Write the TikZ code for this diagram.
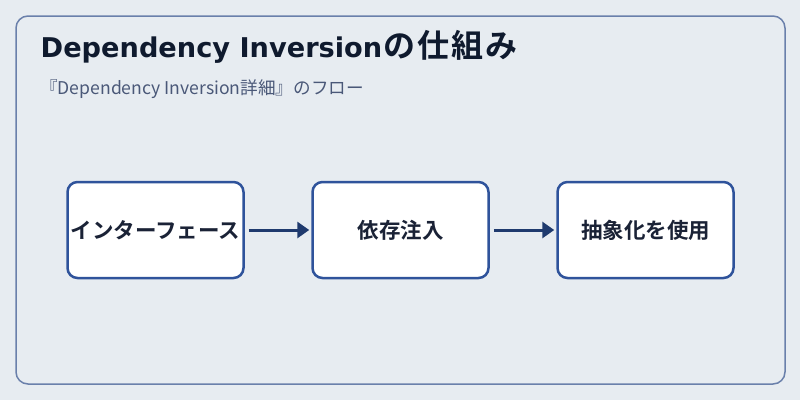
\documentclass[tikz,border=0pt]{standalone}
\usepackage{fontspec}
\setmainfont{Noto Sans CJK JP}[BoldFont={Noto Sans CJK JP Bold}]
\newfontfamily\latinbold{DejaVu Sans Bold}
\usetikzlibrary{arrows.meta}
\definecolor{bg}{HTML}{E7ECF1}
\definecolor{framec}{HTML}{6A80AB}
\definecolor{titlec}{HTML}{0F1A2E}
\definecolor{subc}{HTML}{4A5878}
\definecolor{boxc}{HTML}{2F539B}
\definecolor{boxtext}{HTML}{1A2236}
\definecolor{arrowc}{HTML}{1F3A6E}
\tikzset{
  stepbox/.style={draw=boxc, line width=2.5pt, fill=white, rounded corners=10pt,
    minimum width=176pt, minimum height=96pt, inner sep=0pt,
    font=\fontsize{21.5pt}{24pt}\selectfont\bfseries, text=boxtext},
  flow/.style={draw=arrowc, line width=3pt, -{Triangle[length=12pt,width=16pt]},
    shorten <=4pt, shorten >=2pt}
}
\begin{document}
\begin{tikzpicture}[x=1pt,y=-1pt]
\useasboundingbox[fill=bg] (0,0) rectangle (800,400);
\draw[framec, line width=1.5pt, rounded corners=12pt] (16,16) rectangle (785,384);
\node[anchor=base west, inner sep=0pt, text=titlec] (title) at (40.5,57)
  {{\latinbold\fontsize{27.2pt}{30pt}\selectfont Dependency Inversion}{\fontsize{32pt}{34pt}\selectfont\bfseries\kern1pt の\kern2pt 仕\kern2pt 組\kern2pt み}};
\node[anchor=base west, inner sep=0pt, text=subc, font=\fontsize{17.6pt}{20pt}\selectfont] (sub) at (40,94.5) {『Dependency Inversion詳細』のフロー};
\node[stepbox] (a) at (155.5,230) {インターフェース};
\node[stepbox] (b) at (400.5,230) {依存注入};
\node[stepbox] (c) at (645.5,230) {抽象化を使用};
\draw[flow] (a) -- (b);
\draw[flow] (b) -- (c);
\end{tikzpicture}
\end{document}
